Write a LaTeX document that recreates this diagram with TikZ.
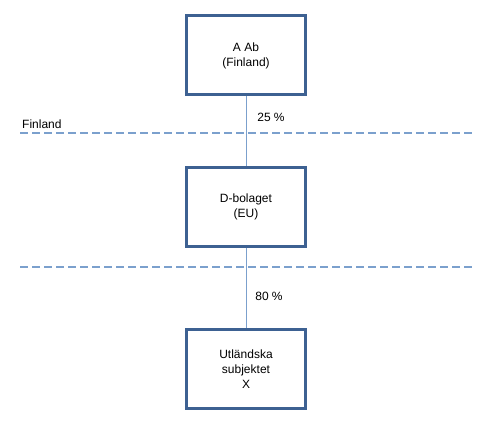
\documentclass[tikz,border=0pt]{standalone}
\usepackage{fontspec}
\setmainfont{Liberation Sans}
\usepackage{tikz}
\usetikzlibrary{positioning,calc}
\definecolor{boxblue}{HTML}{3D6192}
\definecolor{lineblue}{HTML}{7BA0CD}
\tikzset{
  ownbox/.style={
    rectangle, draw=boxblue, fill=white, line width=3pt,
    minimum width=119pt, minimum height=79pt, inner sep=2pt,
    align=center, font=\fontsize{12}{15}\selectfont
  },
  ownedge/.style={draw=lineblue, line width=1pt},
  ownlabel/.style={font=\fontsize{12}{15}\selectfont, inner sep=0pt},
  borderline/.style={draw=lineblue, line width=1.5pt, dash pattern=on 8pt off 4pt}
}
\begin{document}
\begin{tikzpicture}[x=1pt,y=1pt]
  \useasboundingbox (0,0) rectangle (492,426);
  \node[ownbox] (aab) at (246,370.5) {A Ab\\(Finland)};
  \node[ownbox] (dbol) at (246,219) {D-bolaget\\(EU)};
  \node[ownbox] (utl) at (246,57) {Utländska\\subjektet\\X};
  % borders
  \coordinate (b1w) at (20,293);
  \coordinate (b1e) at (473,293);
  \coordinate (b2w) at (20,159);
  \coordinate (b2e) at (473,159);
  \draw[borderline] (b1w) -- (b1e);
  \draw[borderline] (b2w) -- (b2e);
  \node[ownlabel,anchor=west] (fin) at (22,302) {Finland};
  \draw[ownedge] (aab.south) -- (dbol.north);
  \draw[ownedge] (dbol.south) -- (utl.north);
  \node[ownlabel] (p25) at (271,309) {25 \%};
  \node[ownlabel] (p80) at (269,130) {80 \%};
\end{tikzpicture}
\end{document}
